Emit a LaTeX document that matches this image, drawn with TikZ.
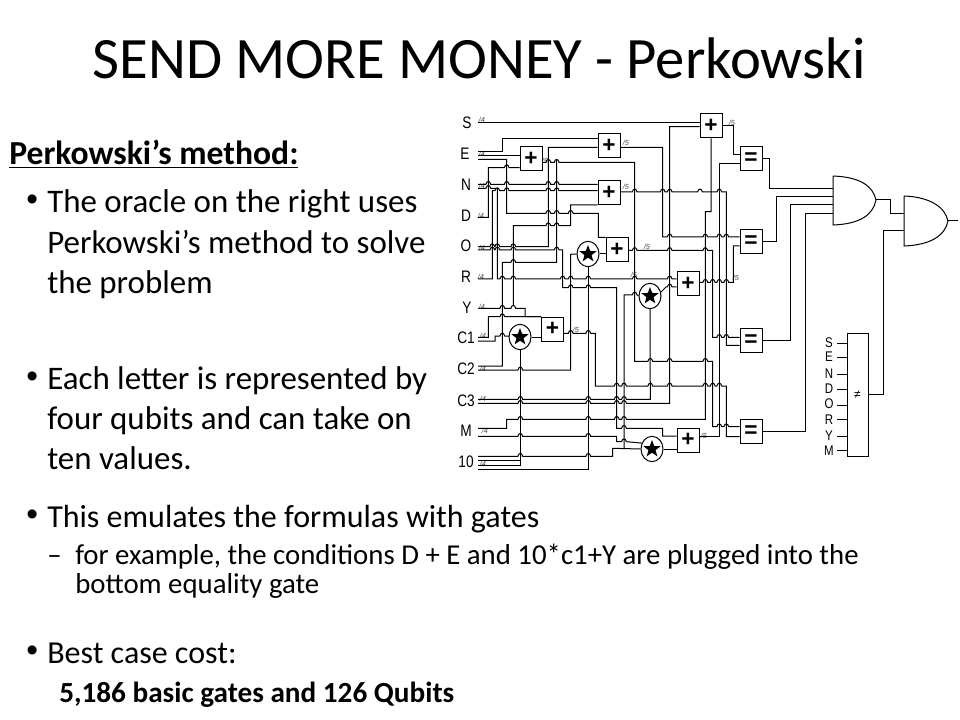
\documentclass[tikz,border=0pt]{standalone}
\usepackage{fontspec}
\setmainfont{Carlito}
\newfontfamily\lblfont[FakeStretch=0.82]{Liberation Sans}
\newfontfamily\gatefont{Liberation Sans}
\usetikzlibrary{shapes.geometric}
\newcommand\hp[2]{-- (#1-2.4,#2) .. controls (#1-1.6,#2-3.8) and (#1+1.6,#2-3.8) .. (#1+2.4,#2)}
\tikzset{
  x=0.75pt,y=-0.75pt,
  wire/.style={draw=black,line width=0.75pt},
  gatebox/.style={draw=black,line width=0.75pt,fill=white,minimum width=16.5pt,minimum height=18pt,inner sep=0pt,font=\gatefont\bfseries\fontsize{17}{17}\selectfont},
  ring/.style={draw=black,line width=0.75pt,fill=white,ellipse,minimum width=16.5pt,minimum height=19pt,inner sep=0pt},
  blackstar/.style={fill=black,star,star points=5,star point ratio=2.4,minimum size=13.5pt,inner sep=0pt},
  inlabel/.style={font=\lblfont\fontsize{12.5}{12.5}\selectfont,inner sep=0pt},
  nelabel/.style={font=\lblfont\fontsize{10.5}{10.5}\selectfont,inner sep=0pt},
  bus/.style={font=\gatefont\itshape\fontsize{5.5}{5.5}\selectfont,text=black!70,inner sep=0pt},
  slidetext/.style={anchor=base west,inner sep=0pt,font=\fontsize{24.7}{28}\selectfont},
  lowtext/.style={anchor=base west,inner sep=0pt,font=\fontsize{24}{28}\selectfont},
  subtext/.style={anchor=base west,inner sep=0pt,font=\fontsize{21.6}{26}\selectfont},
  bulletdot/.style={anchor=base west,inner sep=0pt,font=\gatefont\fontsize{25}{27}\selectfont},
}
\begin{document}
\begin{tikzpicture}
\useasboundingbox (0,0) rectangle (960,720);
\fill[white] (0,0) rectangle (960,720);
% --- text
\node[anchor=base,inner sep=0pt,font=\fontsize{44}{50}\selectfont] (title) at (479,79) {SEND MORE MONEY - Perkowski};
\node[slidetext,font=\bfseries\fontsize{25.2}{28}\selectfont] (head) at (9,165) {\underline{Perkowski’s method:}};
\node[bulletdot] (b1) at (26,211) {•};
\node[slidetext] (l1) at (47,213) {The oracle on the right uses};
\node[slidetext] (l2) at (47,254) {Perkowski’s method to solve};
\node[slidetext] (l3) at (47,293) {the problem};
\node[bulletdot] (b2) at (26,387) {•};
\node[slidetext] (l4) at (47,389) {Each letter is represented by};
\node[slidetext] (l5) at (47,429) {four qubits and can take on};
\node[slidetext] (l6) at (47,469) {ten values.};
\node[bulletdot] (b3) at (26,525) {•};
\node[lowtext] (l7) at (47,527) {This emulates the formulas with gates};
\node[subtext] (d1) at (47,564) {–};
\node[subtext] (l8) at (75,564) {for example, the conditions D + E and 10*c1+Y are plugged into the};
\node[subtext] (l9) at (75,593) {bottom equality gate};
\node[bulletdot] (b4) at (26,661) {•};
\node[lowtext] (l10) at (47,663) {Best case cost:};
\node[subtext,font=\bfseries\fontsize{21.9}{26}\selectfont] (l11) at (59,702) {5,186 basic gates and 126 Qubits};
% --- input labels
\foreach \n/\t/\px/\py in {iS/S/467/123,iE/E/465/154,iN/N/466/185,iD/D/466/216,iO/O/466/246,iR/R/466/277,iY/Y/467/308,iCa/C1/466/338,iCb/C2/466/369,iCc/C3/466/401,iM/M/466/431,iT/10/466/462}
  \node[inlabel] (\n) at (\px,\py) {\t};
\foreach \n/\px/\py in {a/482/120,b/482/154,c/482/186,d/481/216,e/482/248,f/481/277,g/482/307,h/483/336,i/483/369,j/483/399,k/485/431,l/483/464}
  \node[bus] (bus\n) at (\px,\py) {/4};
\foreach \n/\px/\py in {a/626/143,b/626/187,c/545/161,d/647/247,e/634/275,f/576/330,g/732/123,h/736/278,i/704/436}
  \node[bus] (out\n) at (\px,\py) {/5};
% --- gates
\node[gatebox] (P1) at (531,159) {+};
\node[gatebox] (P2) at (609,145.5) {+};
\node[gatebox] (P3) at (609,192.5) {+};
\node[gatebox] (P4) at (617,249.5) {+};
\node[gatebox] (P5) at (711,126) {+};
\node[gatebox] (P6) at (688,283.5) {+};
\node[gatebox] (P7) at (552.5,329) {+};
\node[gatebox] (P8) at (688,440) {+};
\node[ring] (St1) at (588,254) {};
\node[ring] (St2) at (650,296) {};
\node[ring] (St3) at (520,337) {};
\node[ring] (St4) at (652,449) {};
\foreach \s in {St1,St2,St3,St4} \node[blackstar] at (\s) {};
\node[gatebox] (E1) at (751,159) {=};
\node[gatebox] (E2) at (751,241.5) {=};
\node[gatebox] (E3) at (751,340.5) {=};
\node[gatebox] (E4) at (751,431.5) {=};
\node[draw=black,line width=0.75pt,minimum width=15.75pt,minimum height=92.25pt,inner sep=0pt,font=\gatefont\fontsize{9}{9}\selectfont] (NE) at (857.5,394.5) {≠};
% --- AND gates
\coordinate (A1) at (833,176);
\coordinate (A1o) at (876,200);
\coordinate (A2) at (904,196);
\coordinate (A2o) at (948,221);
\draw[wire] (A1) -- (833,225) .. controls (860,224) and (873,215) .. (A1o) .. controls (873,186) and (860,177) .. (A1);
\draw[wire] (A2) -- (904,246) .. controls (930,245) and (945,236) .. (A2o) .. controls (945,207) and (930,197) .. (A2);
% --- not-equal inputs
\foreach \n/\t/\py/\ly in {nS/S/343.5/343,nE/E/357/357,nN/N/374/374,nD/D/389/389,nO/O/405/404,nR/R/419/420,nY/Y/436/436,nM/M/450/451}{
  \node[nelabel] (\n) at (829,\ly) {\t};
  \draw[wire] (837,\py) -- (NE.west |- 0,\py);
}
% --- wires
\draw[wire] (478,122.7) -- (P5.west |- 0,122.7);
\draw[wire] (478,151.7) -- (502.3,151.7) -- (502.3,138.3) -- (P2.west |- 0,138.3);
\draw[wire] (478,155.3) -- (P1.west |- 0,155.3);
\draw[wire] (478,159.3) -- (506.7,159.3) -- (506.7,213.3) \hp{548.3}{213.3} \hp{556.7}{213.3} \hp{570.7}{213.3} -- (598.3,213.3) -- (598.3,237.3) -- (P4.west |- 0,237.3);
\draw[wire] (478,217.3) -- (488.3,217.3) -- (488.3,167.7) \hp{506.7}{167.7} -- (P1.west |- 0,167.7);
\draw[wire] (478,184.3) \hp{488.3}{184.3} \hp{506.7}{184.3} \hp{548.3}{184.3} \hp{556.7}{184.3} -- (P3.west |- 0,184.3);
\draw[wire] (478,188.3) \hp{488.3}{188.3} -- (497.3,188.3) -- (497.3,279) \hp{502.3}{279} \hp{513.3}{279} \hp{562.7}{279} \hp{570.7}{279} \hp{588.3}{279} \hp{634.7}{279} \hp{669.7}{279} -- (P6.west |- 0,279);
\draw[wire] (478,279) -- (492.3,279) -- (492.3,190.7) \hp{497.3}{190.7} \hp{506.7}{190.7} \hp{548.3}{190.7} \hp{556.7}{190.7} -- (P3.west |- 0,190.7);
\draw[wire] (478,246.7) \hp{492.3}{246.7} \hp{497.3}{246.7} \hp{513.3}{246.7} -- (548.3,246.7) -- (548.3,147.3) -- (P2.west |- 0,147.3);
\draw[wire] (478,250) \hp{492.3}{250} \hp{497.3}{250} \hp{513.3}{250} \hp{556.7}{250} -- (562.7,250) -- (562.7,287.7) \hp{570.7}{287.7} \hp{588.3}{287.7} -- (616.7,287.7) -- (616.7,428.3) \hp{624}{428.3} -- (662.7,428.3) -- (662.7,436) -- (P8.west |- 0,436);
\draw[wire] (P1.east |- 0,162.3) \hp{548.3}{162.3} \hp{556.7}{162.3} -- (634.7,162.3) -- (634.7,361.3) \hp{650.3}{361.3} \hp{669.7}{361.3} \hp{705.3}{361.3} -- (712.7,361.3) -- (712.7,426.7) \hp{719.3}{426.7} \hp{726.3}{426.7} -- (E4.west |- 0,426.7);
\draw[wire] (478,366) -- (502.3,366) -- (502.3,262.3) \hp{513.3}{262.3} -- (556.7,262.3) -- (556.7,160);
\draw[wire] (478,308.3) \hp{502.3}{308.3} \hp{513.3}{308.3} -- (525,308.3) -- (525,316.7) -- (P7.west |- 0,316.7);
\draw[wire] (513.3,305) -- (513.3,225.7) \hp{548.3}{225.7} \hp{556.7}{225.7} -- (570.7,225.7) -- (570.7,205) -- (P3.west |- 0,205);
\draw[wire] (478,337.3) -- (488.3,337.3) -- (488.3,316.7) \hp{502.3}{316.7} -- (P7.west |- 0,316.7);
\draw[wire] (478,341) -- (495,341) -- (495,336) \hp{502.3}{336} -- (509,336);
\draw[wire] (478,370) \hp{520.3}{370} -- (570.7,370) -- (570.7,254.3) -- (St1.west);
\draw[wire] (478,399.3) \hp{520.3}{399.3} \hp{588.3}{399.3} \hp{616.7}{399.3} \hp{624}{399.3} -- (650.3,399.3) -- (St2.south);
\draw[wire] (478,403.3) \hp{520.3}{403.3} \hp{588.3}{403.3} \hp{616.7}{403.3} \hp{624}{403.3} -- (669.7,403.3) -- (669.7,126.7) -- (P5.west |- 0,126.7);
\draw[wire] (478,428.3) -- (506.7,428.3) -- (506.7,419.3) \hp{520.3}{419.3} \hp{588.3}{419.3} \hp{616.7}{419.3} \hp{624}{419.3} -- (705.3,419.3) -- (705.3,211.7) -- (P5.south |- 0,211.7) -- (P5.south);
\draw[wire] (478,436.3) \hp{520.3}{436.3} \hp{588.3}{436.3} -- (616.7,436.3) -- (616.7,441.7) \hp{624}{441.7} -- (St4.150);
\draw[wire] (478,456.3) \hp{520.3}{456.3} \hp{588.3}{456.3} -- (612.7,456.3) -- (612.7,448.3) -- (St4.west);
\draw[wire] (624,448.3) -- (624,295) \hp{634.7}{295} -- (St2.west);
\draw[wire] (St3.south) -- (St3.south |- 0,465.3) -- (478,465.3);
\draw[wire] (478,460.5) -- (St3.south |- 0,460.5);
\draw[wire] (St1.south) -- (St1.south |- 0,469.3) -- (478,469.3);
\draw[wire] (St3.east) -- (P7.west |- St3.east);
\draw[wire] (St1.east) -- (P4.west |- St1.east);
\draw[wire] (St4.east) -- (P8.west |- St4.east);
\draw[wire] (St2.20) -- (666,287) \hp{669.7}{287} -- (P6.west |- 0,287);
\draw[wire] (P2.east |- 0,147.3) -- (662.7,147.3) -- (662.7,237) \hp{669.7}{237} \hp{705.3}{237} \hp{719.3}{237} \hp{726.3}{237} -- (E2.west |- 0,237);
\draw[wire] (P3.east |- 0,192) \hp{634.7}{192} \hp{662.7}{192} \hp{669.7}{192} \hp{700}{192} \hp{719.3}{192} -- (726.3,192) -- (726.3,345.3) -- (E3.west |- 0,345.3);
\draw[wire] (P4.east |- 0,250.5) \hp{634.7}{250.5} \hp{669.7}{250.5} \hp{705.3}{250.5} -- (712.7,250.5) -- (712.7,337.3) \hp{719.3}{337.3} \hp{726.3}{337.3} -- (E3.west |- 0,337.3);
\draw[wire] (P6.east |- 0,282.3) \hp{705.3}{282.3} \hp{712.7}{282.3} \hp{719.3}{282.3} \hp{726.3}{282.3} -- (733.3,282.3) -- (733.3,246) -- (E2.west |- 0,246);
\draw[wire] (P7.east |- 0,333.3) \hp{570.7}{333.3} \hp{588.3}{333.3} -- (595.3,333.3) -- (595.3,386) \hp{616.7}{386} \hp{624}{386} \hp{650.3}{386} \hp{669.7}{386} \hp{705.3}{386} \hp{712.7}{386} \hp{719.3}{386} -- (726.3,386) -- (726.3,436.7) -- (E4.west |- 0,436.7);
\draw[wire] (P8.east |- 0,436.7) -- (719.3,436.7) -- (719.3,163.3) -- (E1.west |- 0,163.3);
\draw[wire] (P5.east) -- (733.3,126) -- (733.3,155) -- (E1.west |- 0,155);
\draw[wire] (E1.east) -- (769.3,159) -- (769.3,188.3) -- (A1 |- 0,188.3);
\draw[wire] (E2.east) -- (776.3,241.5) -- (776.3,196.3) -- (A1 |- 0,196.3);
\draw[wire] (E3.east) -- (790.3,340.5) -- (790.3,204.3) -- (A1 |- 0,204.3);
\draw[wire] (E4.east) -- (805.3,431.5) -- (805.3,213.3) -- (A1 |- 0,213.3);
\draw[wire] (A1o) -- (890.3,200) -- (890.3,213.3) -- (A2 |- 0,213.3);
\draw[wire] (NE.east) -- (883,394.5) -- (883,231) -- (A2 |- 0,231);
\draw[wire] (A2o) -- (958,221);
\end{tikzpicture}
\end{document}
